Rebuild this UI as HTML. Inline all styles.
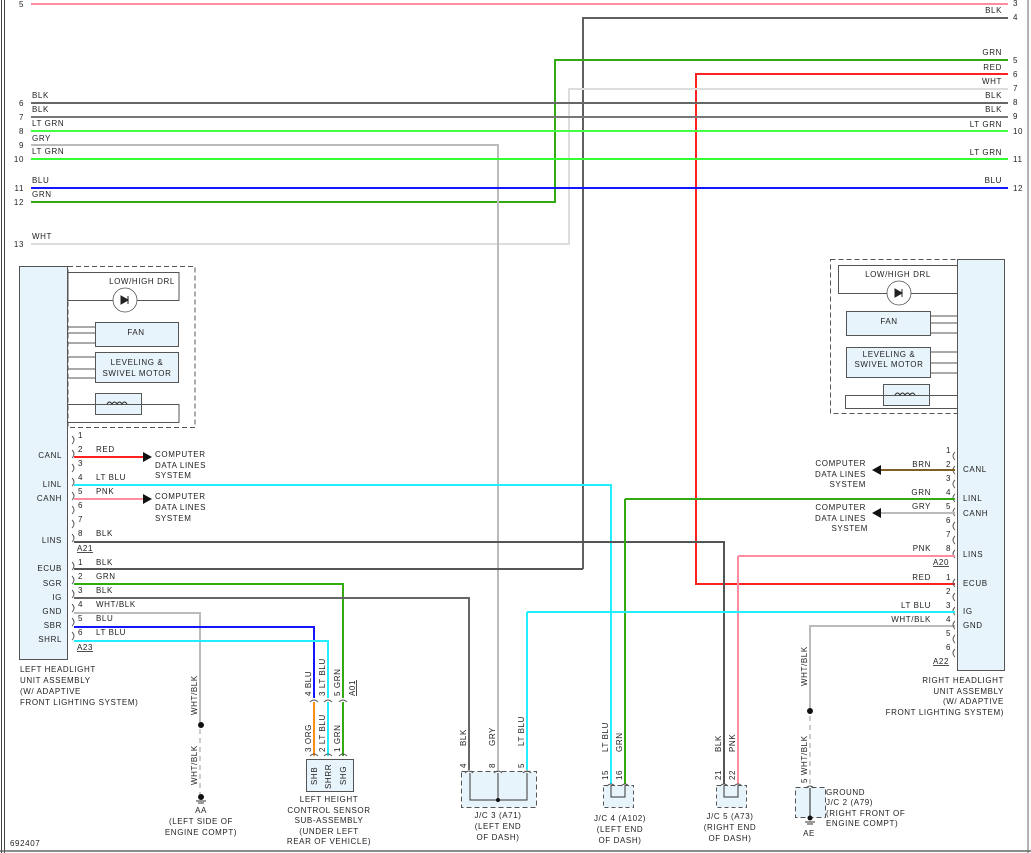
<!DOCTYPE html>
<html><head><meta charset="utf-8"><style>
body{margin:0;background:#fff}
svg{display:block}
text{font-family:"Liberation Sans",sans-serif;font-size:8px;fill:#222;letter-spacing:.6px}
.c{text-anchor:middle}.e{text-anchor:end}
.w{fill:none;stroke-width:2}
</style></head><body>
<svg width="1031" height="853" viewBox="0 0 1031 853" xmlns="http://www.w3.org/2000/svg">
<!-- frame -->
<line x1="1.5" y1="0" x2="1.5" y2="853" stroke="#444" stroke-width="1"/>
<line x1="4.5" y1="0" x2="4.5" y2="853" stroke="#444" stroke-width="1"/>
<line x1="1028" y1="0" x2="1028" y2="853" stroke="#666" stroke-width="1"/>
<line x1="0" y1="851" x2="1031" y2="851" stroke="#666" stroke-width="1.5"/>

<!-- top horizontal wires -->
<g class="w">
<line x1="31" y1="4" x2="1008" y2="4" stroke="#ff8ca0"/>
<polyline points="583,569 583,18 1008,18" stroke="#606060" fill="none"/>
<polyline points="31,202 555,202 555,60 1008,60" stroke="#33aa11" fill="none"/>
<polyline points="955,584 696,584 696,74 1008,74" stroke="#ff2020" fill="none"/>
<polyline points="31,244 569,244 569,89 1008,89" stroke="#dddddd" fill="none"/>
<line x1="31" y1="103" x2="1008" y2="103" stroke="#666"/>
<line x1="31" y1="117" x2="1008" y2="117" stroke="#777"/>
<line x1="31" y1="131" x2="1008" y2="131" stroke="#44ff44"/>
<polyline points="31,145 498,145 498,770" stroke="#bbbbbb" fill="none"/>
<line x1="31" y1="159" x2="1008" y2="159" stroke="#33ff33"/>
<line x1="31" y1="188" x2="1008" y2="188" stroke="#1515ff"/>
</g>
<!-- left numbers -->
<g class="e">
<text x="24" y="7">5</text><text x="24" y="106">6</text><text x="24" y="120">7</text><text x="24" y="134">8</text>
<text x="24" y="148">9</text><text x="24" y="162">10</text><text x="24" y="191">11</text><text x="24" y="205">12</text><text x="24" y="247">13</text>
</g>
<text x="32" y="98">BLK</text><text x="32" y="112">BLK</text><text x="32" y="126">LT GRN</text><text x="32" y="141">GRY</text>
<text x="32" y="154">LT GRN</text><text x="32" y="183">BLU</text><text x="32" y="197">GRN</text><text x="32" y="239">WHT</text>
<!-- right numbers -->
<g>
<text x="1013" y="6">3</text><text x="1013" y="20">4</text><text x="1013" y="63">5</text><text x="1013" y="77">6</text>
<text x="1013" y="91">7</text><text x="1013" y="105">8</text><text x="1013" y="119">9</text><text x="1013" y="134">10</text>
<text x="1013" y="162">11</text><text x="1013" y="191">12</text>
</g>
<g class="e">
<text x="1002" y="13">BLK</text><text x="1002" y="55">GRN</text><text x="1002" y="70">RED</text><text x="1002" y="84">WHT</text>
<text x="1002" y="98">BLK</text><text x="1002" y="112">BLK</text><text x="1002" y="127">LT GRN</text><text x="1002" y="155">LT GRN</text><text x="1002" y="183">BLU</text>
</g>

<!-- LEFT UNIT -->
<rect x="19.5" y="266.5" width="48" height="393" fill="#e8f4fb" stroke="#555"/>
<rect x="68" y="266.5" width="127" height="161" fill="none" stroke="#555" stroke-dasharray="5,3"/>
<rect x="68" y="272.5" width="111" height="28" fill="none" stroke="#555"/>
<text x="142" y="284" class="c">LOW/HIGH DRL</text>
<circle cx="125" cy="300" r="12" fill="#fff" stroke="#555" stroke-width=".8"/>
<path d="M121 296 L128 300 L121 304Z M128 296 V304" fill="#222" stroke="#222"/>
<rect x="95.5" y="322.5" width="83" height="24" fill="#e8f4fb" stroke="#555"/>
<text x="136" y="335" class="c">FAN</text>
<path d="M68 327H95M68 333H95M68 343H95" stroke="#555"/>
<rect x="95.5" y="352.5" width="83" height="30" fill="#e8f4fb" stroke="#555"/>
<text x="137" y="365" class="c">LEVELING &amp;</text><text x="137" y="376" class="c">SWIVEL MOTOR</text>
<path d="M68 357H95M68 369H95M68 378H95" stroke="#555"/>
<rect x="95.5" y="393.5" width="46" height="21" fill="#e8f4fb" stroke="#555"/>
<path d="M68 404.5H179V422.5H68" fill="none" stroke="#555"/>
<path d="M107 404 q2.5-4 5 0 q2.5-4 5 0 q2.5-4 5 0 q2.5-4 5 0" fill="none" stroke="#333"/>

<!-- left pin arcs -->
<g fill="none" stroke="#555" stroke-width=".9">
<path d="M72 436q4 4 0 8M72 450q4 4 0 8M72 464q4 4 0 8M72 478q4 4 0 8M72 492q4 4 0 8M72 506q4 4 0 8M72 520q4 4 0 8M72 534q4 4 0 8"/>
<path d="M72 562q4 4 0 8M72 576q4 4 0 8M72 590q4 4 0 8M72 604q4 4 0 8M72 618q4 4 0 8M72 632q4 4 0 8"/>
</g>
<g>
<text x="78" y="438">1</text><text x="78" y="452">2</text><text x="78" y="466">3</text><text x="78" y="480">4</text>
<text x="78" y="494">5</text><text x="78" y="508">6</text><text x="78" y="522">7</text><text x="78" y="536">8</text>
<text x="78" y="565">1</text><text x="78" y="579">2</text><text x="78" y="593">3</text><text x="78" y="607">4</text><text x="78" y="621">5</text><text x="78" y="635">6</text>
<text x="96" y="452">RED</text><text x="96" y="480">LT BLU</text><text x="96" y="494">PNK</text><text x="96" y="536">BLK</text>
<text x="96" y="565">BLK</text><text x="96" y="579">GRN</text><text x="96" y="593">BLK</text><text x="96" y="607">WHT/BLK</text><text x="96" y="621">BLU</text><text x="96" y="635">LT BLU</text>
<text x="77" y="551" text-decoration="underline">A21</text><text x="77" y="650" text-decoration="underline">A23</text>
</g>
<g class="e">
<text x="62" y="458">CANL</text><text x="62" y="487">LINL</text><text x="62" y="501">CANH</text><text x="62" y="543">LINS</text>
<text x="62" y="571">ECUB</text><text x="62" y="586">SGR</text><text x="62" y="600">IG</text><text x="62" y="614">GND</text><text x="62" y="628">SBR</text><text x="62" y="642">SHRL</text>
</g>
<text x="20" y="672">LEFT HEADLIGHT</text><text x="20" y="683">UNIT ASSEMBLY</text><text x="20" y="694">(W/ ADAPTIVE</text><text x="20" y="705">FRONT LIGHTING SYSTEM)</text>

<!-- left wires -->
<g class="w">
<line x1="74" y1="457" x2="143" y2="457" stroke="#ff2020"/>
<line x1="74" y1="499" x2="143" y2="499" stroke="#ff8ca0"/>
<polyline points="74,485 611,485 611,770" stroke="#22eeff" fill="none"/>
<polyline points="74,542 724,542 724,770" stroke="#555" fill="none"/>
<line x1="74" y1="569" x2="583" y2="569" stroke="#555"/>
<polyline points="74,584 343,584 343,698" stroke="#33aa11" fill="none"/>
<polyline points="74,598 469,598 469,770" stroke="#666" fill="none"/>
<polyline points="74,613 200,613 200,724" stroke="#bbb" fill="none"/>
<polyline points="74,627 314,627 314,698" stroke="#1515ff" fill="none"/>
<polyline points="74,641 328,641 328,698" stroke="#22eeff" fill="none"/>
</g>
<path d="M143 452L152 457L143 462Z M143 494L152 499L143 504Z" fill="#111"/>
<text x="155" y="457">COMPUTER</text><text x="155" y="468">DATA LINES</text><text x="155" y="478">SYSTEM</text>
<text x="155" y="499">COMPUTER</text><text x="155" y="510">DATA LINES</text><text x="155" y="521">SYSTEM</text>

<!-- AA ground -->
<circle cx="201" cy="725" r="3" fill="#111"/>
<line x1="200" y1="729" x2="200" y2="795" stroke="#ccc" stroke-width="2" stroke-dasharray="5,4"/>
<circle cx="201" cy="797" r="3" fill="#111"/>
<path d="M196 801H206M198 803H204" stroke="#333"/>
<text transform="translate(197,715) rotate(-90)">WHT/BLK</text>
<text transform="translate(197,785) rotate(-90)">WHT/BLK</text>
<text x="201" y="813" class="c">AA</text><text x="201" y="824" class="c">(LEFT SIDE OF</text><text x="201" y="835" class="c">ENGINE COMPT)</text>

<!-- Height sensor -->
<g class="w">
<line x1="314" y1="702" x2="314" y2="756" stroke="#ff8c1a"/>
<line x1="328" y1="702" x2="328" y2="756" stroke="#22eeff"/>
<line x1="343" y1="702" x2="343" y2="756" stroke="#33aa11"/>
</g>
<g fill="none" stroke="#555" stroke-width=".9">
<path d="M310 702q4-4 8 0M324 702q4-4 8 0M339 702q4-4 8 0M310 756q4-4 8 0M324 756q4-4 8 0M339 756q4-4 8 0"/>
</g>
<g>
<text transform="translate(311,696) rotate(-90)">4  BLU</text>
<text transform="translate(325,696) rotate(-90)">3  LT BLU</text>
<text transform="translate(340,696) rotate(-90)">5  GRN</text>
<text transform="translate(355,696) rotate(-90)" text-decoration="underline">A01</text>
<text transform="translate(311,752) rotate(-90)">3  ORG</text>
<text transform="translate(325,752) rotate(-90)">2  LT BLU</text>
<text transform="translate(340,752) rotate(-90)">1  GRN</text>
</g>
<rect x="306.5" y="759.5" width="47" height="32" fill="#e8f4fb" stroke="#555"/>
<text transform="translate(317,785) rotate(-90)">SHB</text>
<text transform="translate(331,789) rotate(-90)">SHRR</text>
<text transform="translate(346,785) rotate(-90)">SHG</text>
<g class="c"><text x="329" y="802">LEFT HEIGHT</text><text x="329" y="813">CONTROL SENSOR</text><text x="329" y="823">SUB-ASSEMBLY</text><text x="329" y="834">(UNDER LEFT</text><text x="329" y="844">REAR OF VEHICLE)</text></g>

<!-- J/C 3 -->
<rect x="461.5" y="771.5" width="75" height="36" fill="#e8f4fb" stroke="#555" stroke-dasharray="5,3"/>
<line x1="527" y1="612" x2="527" y2="770" stroke="#22eeff" stroke-width="2"/>
<path d="M470 773V800H527V773M498 773V800" fill="none" stroke="#333"/>
<circle cx="498" cy="800" r="2" fill="#111"/>
<g fill="none" stroke="#555" stroke-width=".9"><path d="M465 773q4-4 8 0M494 773q4-4 8 0M523 773q4-4 8 0"/></g>
<text transform="translate(466,768) rotate(-90)">4</text><text transform="translate(495,768) rotate(-90)">8</text><text transform="translate(524,768) rotate(-90)">5</text>
<text transform="translate(466,746) rotate(-90)">BLK</text><text transform="translate(495,746) rotate(-90)">GRY</text><text transform="translate(524,746) rotate(-90)">LT BLU</text>
<g class="c"><text x="498" y="818">J/C 3 (A71)</text><text x="498" y="829">(LEFT END</text><text x="498" y="840">OF DASH)</text></g>

<!-- J/C 4 -->
<rect x="603.5" y="785.5" width="30" height="22" fill="#e8f4fb" stroke="#555" stroke-dasharray="4,3"/>
<line x1="625" y1="499" x2="625" y2="784" stroke="#33aa11" stroke-width="2"/>
<line x1="611" y1="770" x2="611" y2="784" stroke="#22eeff" stroke-width="2"/>
<path d="M611 786V797H625V786" fill="none" stroke="#333"/>
<g fill="none" stroke="#555" stroke-width=".9"><path d="M607 786q4-4 8 0M621 786q4-4 8 0"/></g>
<text transform="translate(608,780) rotate(-90)">15</text><text transform="translate(622,780) rotate(-90)">16</text>
<text transform="translate(608,752) rotate(-90)">LT BLU</text><text transform="translate(622,752) rotate(-90)">GRN</text>
<g class="c"><text x="620" y="821">J/C 4 (A102)</text><text x="620" y="832">(LEFT END</text><text x="620" y="843">OF DASH)</text></g>

<!-- J/C 5 -->
<rect x="716.5" y="785.5" width="30" height="22" fill="#e8f4fb" stroke="#555" stroke-dasharray="4,3"/>
<line x1="738" y1="556" x2="738" y2="784" stroke="#ff8ca0" stroke-width="2"/>
<line x1="724" y1="770" x2="724" y2="784" stroke="#555" stroke-width="2"/>
<path d="M724 786V797H738V786" fill="none" stroke="#333"/>
<g fill="none" stroke="#555" stroke-width=".9"><path d="M720 786q4-4 8 0M734 786q4-4 8 0"/></g>
<text transform="translate(721,780) rotate(-90)">21</text><text transform="translate(735,780) rotate(-90)">22</text>
<text transform="translate(721,752) rotate(-90)">BLK</text><text transform="translate(735,752) rotate(-90)">PNK</text>
<g class="c"><text x="730" y="819">J/C 5 (A73)</text><text x="730" y="830">(RIGHT END</text><text x="730" y="841">OF DASH)</text></g>

<!-- J/C 2 ground -->
<polyline points="955,626 810,626 810,711" fill="none" stroke="#bbb" stroke-width="2"/>
<circle cx="810" cy="711" r="3" fill="#111"/>
<line x1="810" y1="716" x2="810" y2="784" stroke="#ccc" stroke-width="2" stroke-dasharray="5,4"/>
<rect x="795.5" y="787.5" width="30" height="30" fill="#e8f4fb" stroke="#555" stroke-dasharray="5,3"/>
<line x1="810" y1="788" x2="810" y2="818" stroke="#222"/>
<path d="M806 788q4-4 8 0" fill="none" stroke="#555"/>
<circle cx="810" cy="818" r="2.5" fill="#111"/>
<path d="M805 822H815M807 824H813" stroke="#333"/>
<text transform="translate(807,686) rotate(-90)">WHT/BLK</text>
<text transform="translate(807,783) rotate(-90)">5  WHT/BLK</text>
<text x="826" y="795">GROUND</text><text x="826" y="805">J/C 2 (A79)</text><text x="826" y="816">(RIGHT FRONT OF</text><text x="826" y="826">ENGINE COMPT)</text>
<text x="809" y="836" class="c">AE</text>

<!-- RIGHT UNIT -->
<rect x="957.5" y="259.5" width="47" height="411" fill="#e8f4fb" stroke="#555"/>
<rect x="830.5" y="259.5" width="127" height="154" fill="none" stroke="#555" stroke-dasharray="5,3"/>
<rect x="838.5" y="265.5" width="119" height="28" fill="none" stroke="#555"/>
<text x="898" y="277" class="c">LOW/HIGH DRL</text>
<circle cx="899" cy="293" r="12" fill="#fff" stroke="#555" stroke-width=".8"/>
<path d="M895 289L902 293L895 297Z M902 289V297" fill="#222" stroke="#222"/>
<rect x="846.5" y="311.5" width="84" height="24" fill="#e8f4fb" stroke="#555"/>
<text x="889" y="324" class="c">FAN</text>
<path d="M931 316H957M931 323H957M931 333H957" stroke="#555"/>
<rect x="846.5" y="347.5" width="84" height="30" fill="#e8f4fb" stroke="#555"/>
<text x="889" y="357" class="c">LEVELING &amp;</text><text x="889" y="367" class="c">SWIVEL MOTOR</text>
<path d="M931 352H957M931 363H957M931 373H957" stroke="#555"/>
<rect x="883.5" y="384.5" width="46" height="21" fill="#e8f4fb" stroke="#555"/>
<path d="M957 395.5H845.5V408.5H957" fill="none" stroke="#555"/>
<path d="M895 395 q2.5-4 5 0 q2.5-4 5 0 q2.5-4 5 0 q2.5-4 5 0" fill="none" stroke="#333"/>

<g fill="none" stroke="#555" stroke-width=".9">
<path d="M955 452q-4 4 0 8M955 466q-4 4 0 8M955 480q-4 4 0 8M955 494q-4 4 0 8M955 508q-4 4 0 8M955 522q-4 4 0 8M955 536q-4 4 0 8M955 550q-4 4 0 8"/>
<path d="M955 579q-4 4 0 8M955 593q-4 4 0 8M955 607q-4 4 0 8M955 621q-4 4 0 8M955 635q-4 4 0 8M955 649q-4 4 0 8"/>
</g>
<g class="e">
<text x="951" y="453">1</text><text x="951" y="467">2</text><text x="951" y="481">3</text><text x="951" y="495">4</text>
<text x="951" y="509">5</text><text x="951" y="523">6</text><text x="951" y="537">7</text><text x="951" y="551">8</text>
<text x="951" y="580">1</text><text x="951" y="594">2</text><text x="951" y="608">3</text><text x="951" y="622">4</text><text x="951" y="636">5</text><text x="951" y="650">6</text>
<text x="931" y="467">BRN</text><text x="931" y="495">GRN</text><text x="931" y="509">GRY</text><text x="931" y="551">PNK</text>
<text x="931" y="580">RED</text><text x="931" y="608">LT BLU</text><text x="931" y="622">WHT/BLK</text>
<text x="949" y="565" text-decoration="underline">A20</text><text x="949" y="664" text-decoration="underline">A22</text>
<text x="866" y="466">COMPUTER</text><text x="866" y="477">DATA LINES</text><text x="866" y="487">SYSTEM</text>
<text x="866" y="510">COMPUTER</text><text x="866" y="521">DATA LINES</text><text x="868" y="531">SYSTEM</text>
<text x="1004" y="683">RIGHT HEADLIGHT</text><text x="1004" y="694">UNIT ASSEMBLY</text><text x="1004" y="704">(W/ ADAPTIVE</text><text x="1004" y="715">FRONT LIGHTING SYSTEM)</text>
</g>
<g>
<text x="963" y="472">CANL</text><text x="963" y="501">LINL</text><text x="963" y="516">CANH</text><text x="963" y="557">LINS</text>
<text x="963" y="586">ECUB</text><text x="963" y="614">IG</text><text x="963" y="628">GND</text>
</g>
<g class="w">
<line x1="955" y1="470" x2="880" y2="470" stroke="#806020"/>
<line x1="955" y1="513" x2="880" y2="513" stroke="#bbb"/>
<line x1="955" y1="499" x2="625" y2="499" stroke="#33aa11"/>
<polyline points="955,556 738,556" stroke="#ff8ca0" fill="none"/>
<polyline points="955,612 527,612" stroke="#22eeff" fill="none"/>
</g>
<path d="M881 465L872 470L881 475Z M881 508L872 513L881 518Z" fill="#111"/>

<text x="10" y="846">692407</text>
</svg>
</body></html>
